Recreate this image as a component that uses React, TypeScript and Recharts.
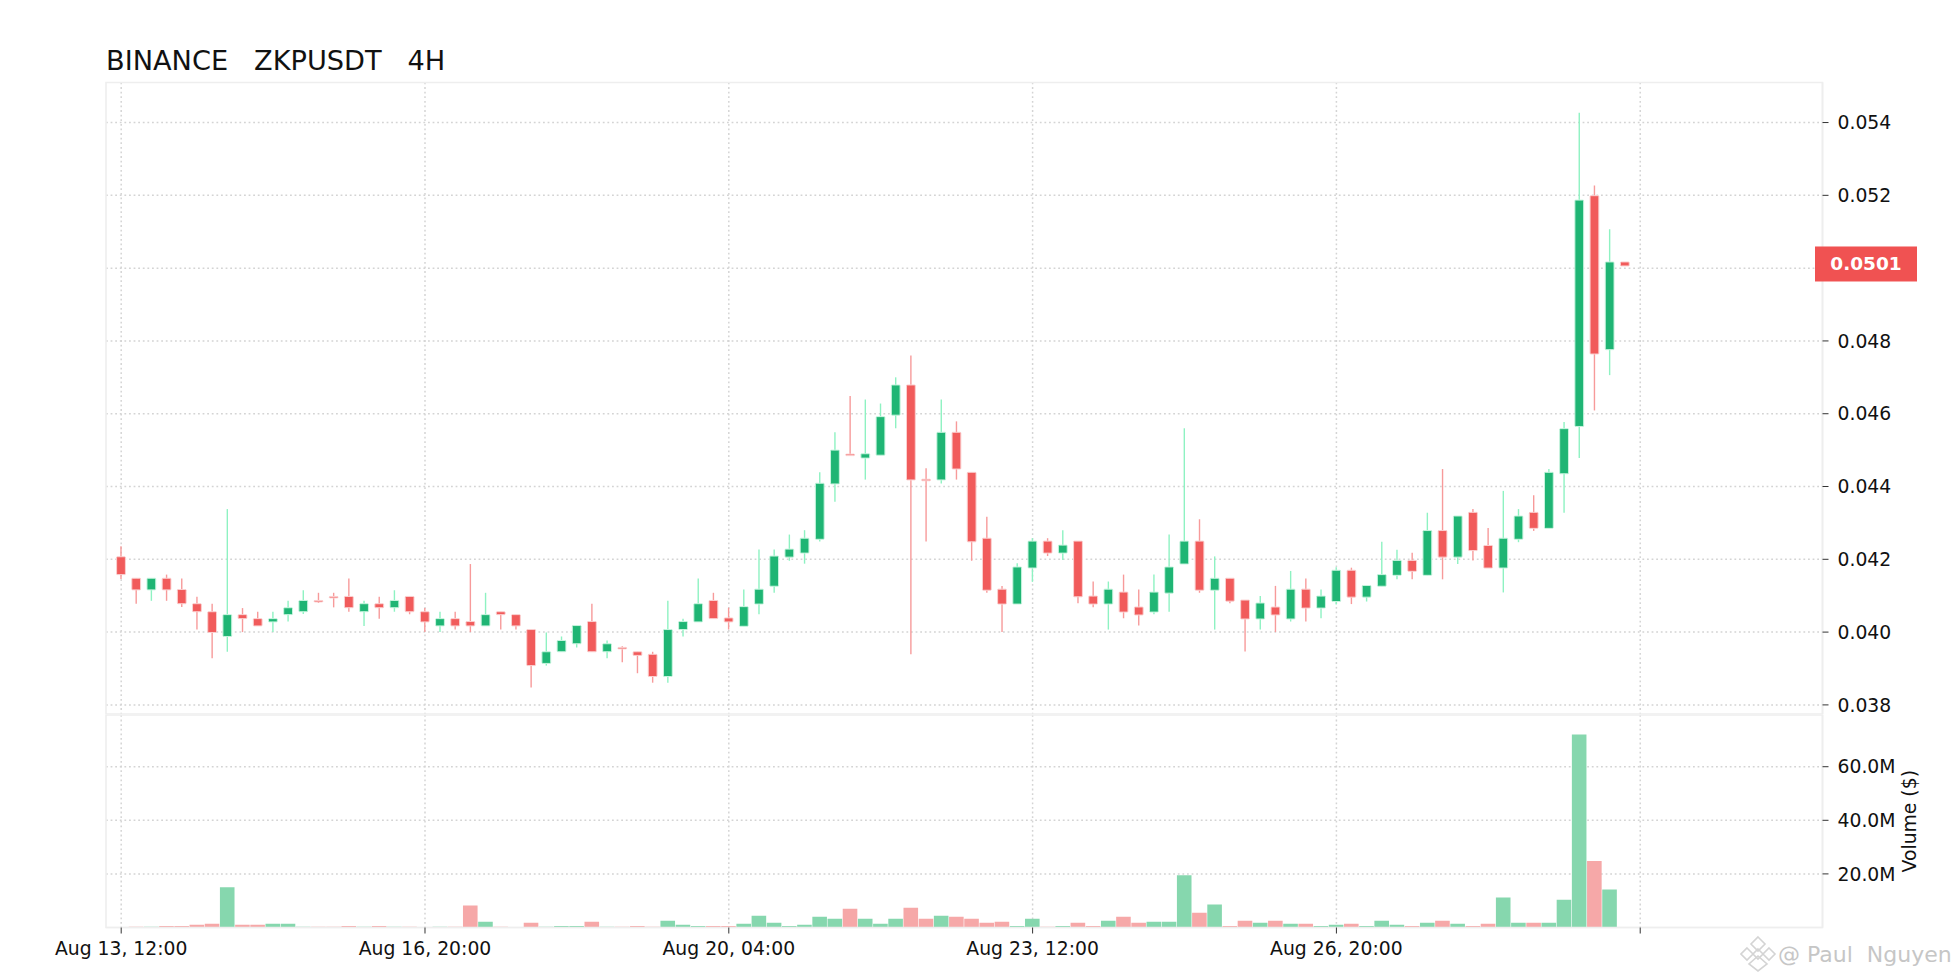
import { Bar, CartesianGrid, Cell, ComposedChart, ReferenceArea, ReferenceLine, XAxis, YAxis } from "recharts";

const opens = [
  0.04207, 0.04148, 0.04116, 0.04148, 0.04117, 0.04078, 0.04056, 0.03988, 0.04048, 0.04037,
  0.04028, 0.04048, 0.04056, 0.04087, 0.04098, 0.04098, 0.04056, 0.04078, 0.04067, 0.04098,
  0.04056, 0.04017, 0.04037, 0.04029, 0.04017, 0.04056, 0.04048, 0.04007, 0.03914, 0.03946,
  0.03968, 0.04029, 0.03946, 0.03958, 0.03946, 0.03939, 0.03878, 0.04007, 0.04028, 0.04087,
  0.04039, 0.04016, 0.04077, 0.04126, 0.04206, 0.04217, 0.04255, 0.04407, 0.04489, 0.04478,
  0.04486, 0.04596, 0.04679, 0.0442, 0.04418, 0.04549, 0.04439, 0.04258, 0.04118, 0.04077,
  0.04176, 0.0425, 0.04217, 0.0425, 0.04099, 0.04077, 0.0411, 0.04069, 0.04055, 0.04107,
  0.04187, 0.0425, 0.04115, 0.04148, 0.04088, 0.04036, 0.04069, 0.04036, 0.04118, 0.04066,
  0.04084, 0.0417, 0.04096, 0.04126, 0.04156, 0.04197, 0.04156, 0.04279, 0.04206, 0.04329,
  0.04238, 0.04176, 0.04255, 0.04329, 0.04285, 0.04435, 0.04565, 0.05199, 0.04776, 0.05017,
];
const highs = [
  0.04236, 0.04148, 0.04148, 0.04158, 0.04147, 0.04097, 0.04078, 0.04338, 0.04066, 0.04056,
  0.04056, 0.04086, 0.04115, 0.04108, 0.04108, 0.04147, 0.04086, 0.04097, 0.04115, 0.04098,
  0.04066, 0.04056, 0.04056, 0.04187, 0.04108, 0.04056, 0.04048, 0.04007, 0.03999, 0.03988,
  0.04018, 0.04078, 0.03977, 0.03961, 0.03946, 0.03946, 0.04086, 0.04037, 0.04147, 0.04108,
  0.04067, 0.04117, 0.04227, 0.04227, 0.04268, 0.0428, 0.04439, 0.04549, 0.04649, 0.04639,
  0.04628, 0.047, 0.0476, 0.0445, 0.04639, 0.04579, 0.04439, 0.04317, 0.04127, 0.04189,
  0.04258, 0.04258, 0.0428, 0.0425, 0.04139, 0.04139, 0.04158, 0.04117, 0.04158, 0.04268,
  0.0456, 0.0431, 0.04208, 0.04148, 0.04088, 0.04099, 0.04127, 0.04168, 0.04147, 0.04117,
  0.04178, 0.04177, 0.04128, 0.04248, 0.04226, 0.04218, 0.04328, 0.04448, 0.04319, 0.04338,
  0.04286, 0.04388, 0.04338, 0.04376, 0.04448, 0.04577, 0.05427, 0.05227, 0.05107, 0.05017,
];
const lows = [
  0.04146, 0.04078, 0.04086, 0.04086, 0.04069, 0.04007, 0.03928, 0.03946, 0.04, 0.04017,
  0.04, 0.04029, 0.0405, 0.0408, 0.04068, 0.04056, 0.04017, 0.04037, 0.04056, 0.04049,
  0.04, 0.04, 0.04007, 0.04, 0.04017, 0.04007, 0.04007, 0.03848, 0.03908, 0.03946,
  0.03958, 0.03946, 0.03928, 0.03917, 0.03887, 0.03861, 0.03861, 0.03988, 0.04028, 0.04037,
  0.04007, 0.04016, 0.04049, 0.04108, 0.04196, 0.04188, 0.04249, 0.04358, 0.04486, 0.04419,
  0.04486, 0.0456, 0.03939, 0.04249, 0.04408, 0.04419, 0.04196, 0.04108, 0.04, 0.04077,
  0.04138, 0.04209, 0.04198, 0.04079, 0.04068, 0.04007, 0.04038, 0.04018, 0.04049, 0.04056,
  0.04187, 0.04108, 0.04007, 0.04079, 0.03947, 0.04007, 0.04, 0.04029, 0.04029, 0.04038,
  0.04076, 0.04077, 0.04084, 0.04126, 0.04145, 0.04145, 0.04156, 0.04145, 0.04187, 0.04197,
  0.04176, 0.04109, 0.04247, 0.04278, 0.04285, 0.04328, 0.04478, 0.04609, 0.04706, 0.05006,
];
const closes = [
  0.04158, 0.04116, 0.04148, 0.04116, 0.04078, 0.04056, 0.03999, 0.04048, 0.04037, 0.04017,
  0.04037, 0.04067, 0.04087, 0.04084, 0.04095, 0.04067, 0.04078, 0.04067, 0.04087, 0.04056,
  0.04028, 0.04037, 0.04017, 0.04017, 0.04048, 0.04048, 0.04017, 0.03908, 0.03946, 0.03977,
  0.04018, 0.03946, 0.03968, 0.03956, 0.03936, 0.03878, 0.04007, 0.04029, 0.04078, 0.04037,
  0.04028, 0.0407, 0.04118, 0.04209, 0.04228, 0.04258, 0.04409, 0.045, 0.04486, 0.0449,
  0.04592, 0.04679, 0.04418, 0.04418, 0.04549, 0.04448, 0.04248, 0.04115, 0.04077, 0.04179,
  0.0425, 0.04217, 0.04239, 0.04097, 0.04077, 0.04118, 0.04055, 0.04047, 0.0411, 0.04179,
  0.0425, 0.04115, 0.04148, 0.04085, 0.04036, 0.0408, 0.04047, 0.04118, 0.04066, 0.04099,
  0.0417, 0.04096, 0.04128, 0.04158, 0.04197, 0.04167, 0.04279, 0.04206, 0.04319, 0.04224,
  0.04176, 0.04258, 0.04319, 0.04285, 0.04439, 0.04559, 0.05187, 0.04764, 0.05017, 0.05006,
];
const volumes = [
  0.1, 0.3, 0.3, 0.6, 0.6, 1.0, 1.4, 15.0, 1.0, 1.0,
  1.4, 1.4, 0.3, 0.3, 0.3, 0.6, 0.3, 0.6, 0.3, 0.3,
  0.2, 0.3, 0.3, 8.2, 2.1, 0.3, 0.1, 1.8, 0.3, 0.6,
  0.6, 2.1, 0.3, 0.3, 0.6, 0.3, 2.5, 1.0, 0.6, 0.6,
  0.6, 1.4, 4.4, 1.8, 0.6, 1.0, 4.0, 3.3, 7.0, 3.3,
  1.4, 3.3, 7.4, 3.3, 4.4, 4.0, 3.3, 1.8, 2.1, 0.6,
  3.3, 0.3, 0.6, 1.8, 0.6, 2.5, 4.0, 1.8, 2.1, 2.1,
  19.5, 5.5, 8.6, 0.6, 2.5, 1.8, 2.5, 1.4, 1.4, 0.6,
  1.0, 1.4, 0.6, 2.5, 1.0, 0.6, 1.8, 2.5, 1.4, 0.6,
  1.4, 11.2, 1.8, 1.8, 1.8, 10.4, 72.0, 24.8, 14.2, 0.1,
];

const xTicks = [0, 20, 40, 60, 80, 100];
const xTickLabels = ["Aug 13, 12:00", "Aug 16, 20:00", "Aug 20, 04:00", "Aug 23, 12:00", "Aug 26, 20:00", ""];
const priceTicks = [0.038, 0.04, 0.042, 0.044, 0.046, 0.048, 0.05, 0.052, 0.054];
const volumeTicks = [20, 40, 60];
const lastPrice = 0.0501;

const xDomain = [-1, 112];
const priceDomain = [0.03775, 0.0551];
const volumeDomain = [0, 79.3];

const UP = "#1fb574";
const DOWN = "#f15b5b";
const UP_WICK = "#8ef2c2";
const DOWN_WICK = "#f79a9a";
const UP_VOL = "#86d7ae";
const DOWN_VOL = "#f6a8a8";
const FONT = "'DejaVu Sans'";

const candles = opens.map((open, i) => ({
  idx: i,
  open,
  high: highs[i],
  low: lows[i],
  close: closes[i],
  range: [lows[i], highs[i]],
}));
const volumeRows = volumes.map((volume, i) => ({ idx: i, volume, up: closes[i] >= opens[i] }));

// bar covers low..high, the body is worked out from that same span
const Candle = (props: any) => {
  const { x, y, width, height, payload } = props;
  const up = payload.close >= payload.open;
  const perUnit = height / (payload.high - payload.low);
  const top = y + (payload.high - Math.max(payload.open, payload.close)) * perUnit;
  const bodyH = Math.abs(payload.open - payload.close) * perUnit;
  const mid = x + width / 2;
  return (
    <g>
      <line x1={mid} x2={mid} y1={y} y2={y + height} stroke={up ? UP_WICK : DOWN_WICK} strokeWidth={1.4} />
      <rect x={x} y={top} width={width} height={Math.max(bodyH, 1.5)} rx={0.8} fill={up ? UP : DOWN} stroke={up ? "#c8f5df" : "#fbd0d0"} strokeWidth={1} />
    </g>
  );
};

const PriceTag = (props: any) => {
  const cy = props.viewBox.y;
  return (
    <g>
      <rect x={1815} y={cy - 18} width={102} height={35} fill="#f05252" />
      <text x={1866} y={cy + 6} textAnchor="middle" fill="#fff" fontFamily={FONT} fontSize={18.5} fontWeight={700}>
        {lastPrice.toFixed(4)}
      </text>
    </g>
  );
};

const tickStyle = { fontFamily: FONT, fontSize: 18.8, fill: "#111" };
const gridProps = { stroke: "#d4d4d4", strokeDasharray: "1.8 2.8", strokeWidth: 1.5 };

const Watermark = () => (
  <svg width={220} height={40} style={{ position: "absolute", left: 1740, top: 934 }}>
    <g fill="none" stroke="#d4d4d4" strokeWidth={1.6}>
      <polygon points="18,3 25,10 18,17 11,10" />
      <polygon points="7,14 13,20 7,26 1,20" />
      <polygon points="29,14 35,20 29,26 23,20" />
      <polygon points="18,15 23,20 18,25 13,20" />
      <polygon points="18,22 27,30 18,37 9,30" />
    </g>
    <text x={38} y={28} fill="#c6c6c6" fontFamily={FONT} fontSize={22} style={{ whiteSpace: "pre" }}>
      @ Paul  Nguyen
    </text>
  </svg>
);

const App = () => {
  return (
    <div style={{ position: "fixed", left: 0, top: 0, width: 1960, height: 980, background: "#fff", overflow: "hidden" }}>
      <div style={{ position: "absolute", left: 106, top: 45, fontFamily: FONT, fontSize: 27.2, color: "#111", whiteSpace: "pre" }}>
        BINANCE   ZKPUSDT   4H
      </div>

      <div style={{ position: "absolute", left: 0, top: 0 }}>
        <ComposedChart width={1960} height={725} data={candles} margin={{ top: 82.5, left: 106, right: 0, bottom: 10 }}>
          <ReferenceArea x1={xDomain[0]} x2={xDomain[1]} y1={priceDomain[0]} y2={priceDomain[1]} fill="none" stroke="#eeeeee" strokeWidth={1.6} />
          <CartesianGrid {...gridProps} horizontalValues={priceTicks} verticalValues={xTicks} />
          <XAxis
            dataKey="idx"
            type="number"
            domain={xDomain}
            ticks={xTicks}
            height={1}
            interval={0}
            tick={{ fill: "none", fontSize: 1 }}
            tickFormatter={() => ""}
            tickLine={false}
            axisLine={false}
          />
          <YAxis
            orientation="right"
            width={137.5}
            domain={priceDomain}
            ticks={priceTicks}
            allowDataOverflow
            tick={tickStyle}
            tickSize={6}
            tickMargin={9}
            tickLine={{ stroke: "#333" }}
            axisLine={{ stroke: "#eeeeee", strokeWidth: 1.6 }}
            tickFormatter={(v: number) => (v === 0.05 ? "" : v.toFixed(3))}
          />
          <Bar dataKey="range" barSize={8.8} shape={Candle} isAnimationActive={false} />
        </ComposedChart>
      </div>

      <div style={{ position: "absolute", left: 0, top: 715 }}>
        <ComposedChart width={1960} height={265} data={volumeRows} margin={{ top: 0, left: 106, right: 0, bottom: 0 }}>
          <ReferenceArea x1={xDomain[0]} x2={xDomain[1]} y1={volumeDomain[0]} y2={volumeDomain[1]} fill="none" stroke="#eeeeee" strokeWidth={1.6} />
          <CartesianGrid {...gridProps} horizontalValues={volumeTicks} verticalValues={xTicks} />
          <XAxis
            dataKey="idx"
            type="number"
            domain={xDomain}
            ticks={xTicks}
            height={52.5}
            tick={tickStyle}
            tickSize={6}
            tickMargin={8}
            interval={0}
            tickLine={{ stroke: "#333" }}
            axisLine={{ stroke: "#eeeeee", strokeWidth: 1.6 }}
            tickFormatter={(v: number) => xTickLabels[xTicks.indexOf(v)]}
          />
          <YAxis
            orientation="right"
            width={137.5}
            domain={volumeDomain}
            ticks={volumeTicks}
            allowDataOverflow
            tick={tickStyle}
            tickSize={6}
            tickMargin={9}
            tickLine={{ stroke: "#333" }}
            axisLine={{ stroke: "#eeeeee", strokeWidth: 1.6 }}
            tickFormatter={(v: number) => `${v.toFixed(1)}M`}
            label={{ value: "Volume ($)", angle: -90, position: "insideLeft", offset: 87, style: { fontFamily: FONT, fontSize: 18.8, fill: "#111", textAnchor: "middle" } }}
          />
          <Bar dataKey="volume" barSize={14.6} isAnimationActive={false}>
            {volumeRows.map((row) => (
              <Cell key={row.idx} fill={row.up ? UP_VOL : DOWN_VOL} />
            ))}
          </Bar>
        </ComposedChart>
      </div>

      {/* last price tag sits above the axis ticks, so it gets its own layer */}
      <div style={{ position: "absolute", left: 0, top: 0 }}>
        <ComposedChart width={1960} height={725} data={candles} margin={{ top: 82.5, left: 106, right: 0, bottom: 10 }}>
          <XAxis dataKey="idx" type="number" domain={xDomain} height={1} tick={false} tickLine={false} axisLine={false} />
          <YAxis orientation="right" width={137.5} domain={priceDomain} allowDataOverflow tick={false} tickLine={false} axisLine={false} />
          <ReferenceLine y={lastPrice} stroke="none" ifOverflow="visible" label={PriceTag} />
        </ComposedChart>
      </div>

      <Watermark />
    </div>
  );
};

export default App;
